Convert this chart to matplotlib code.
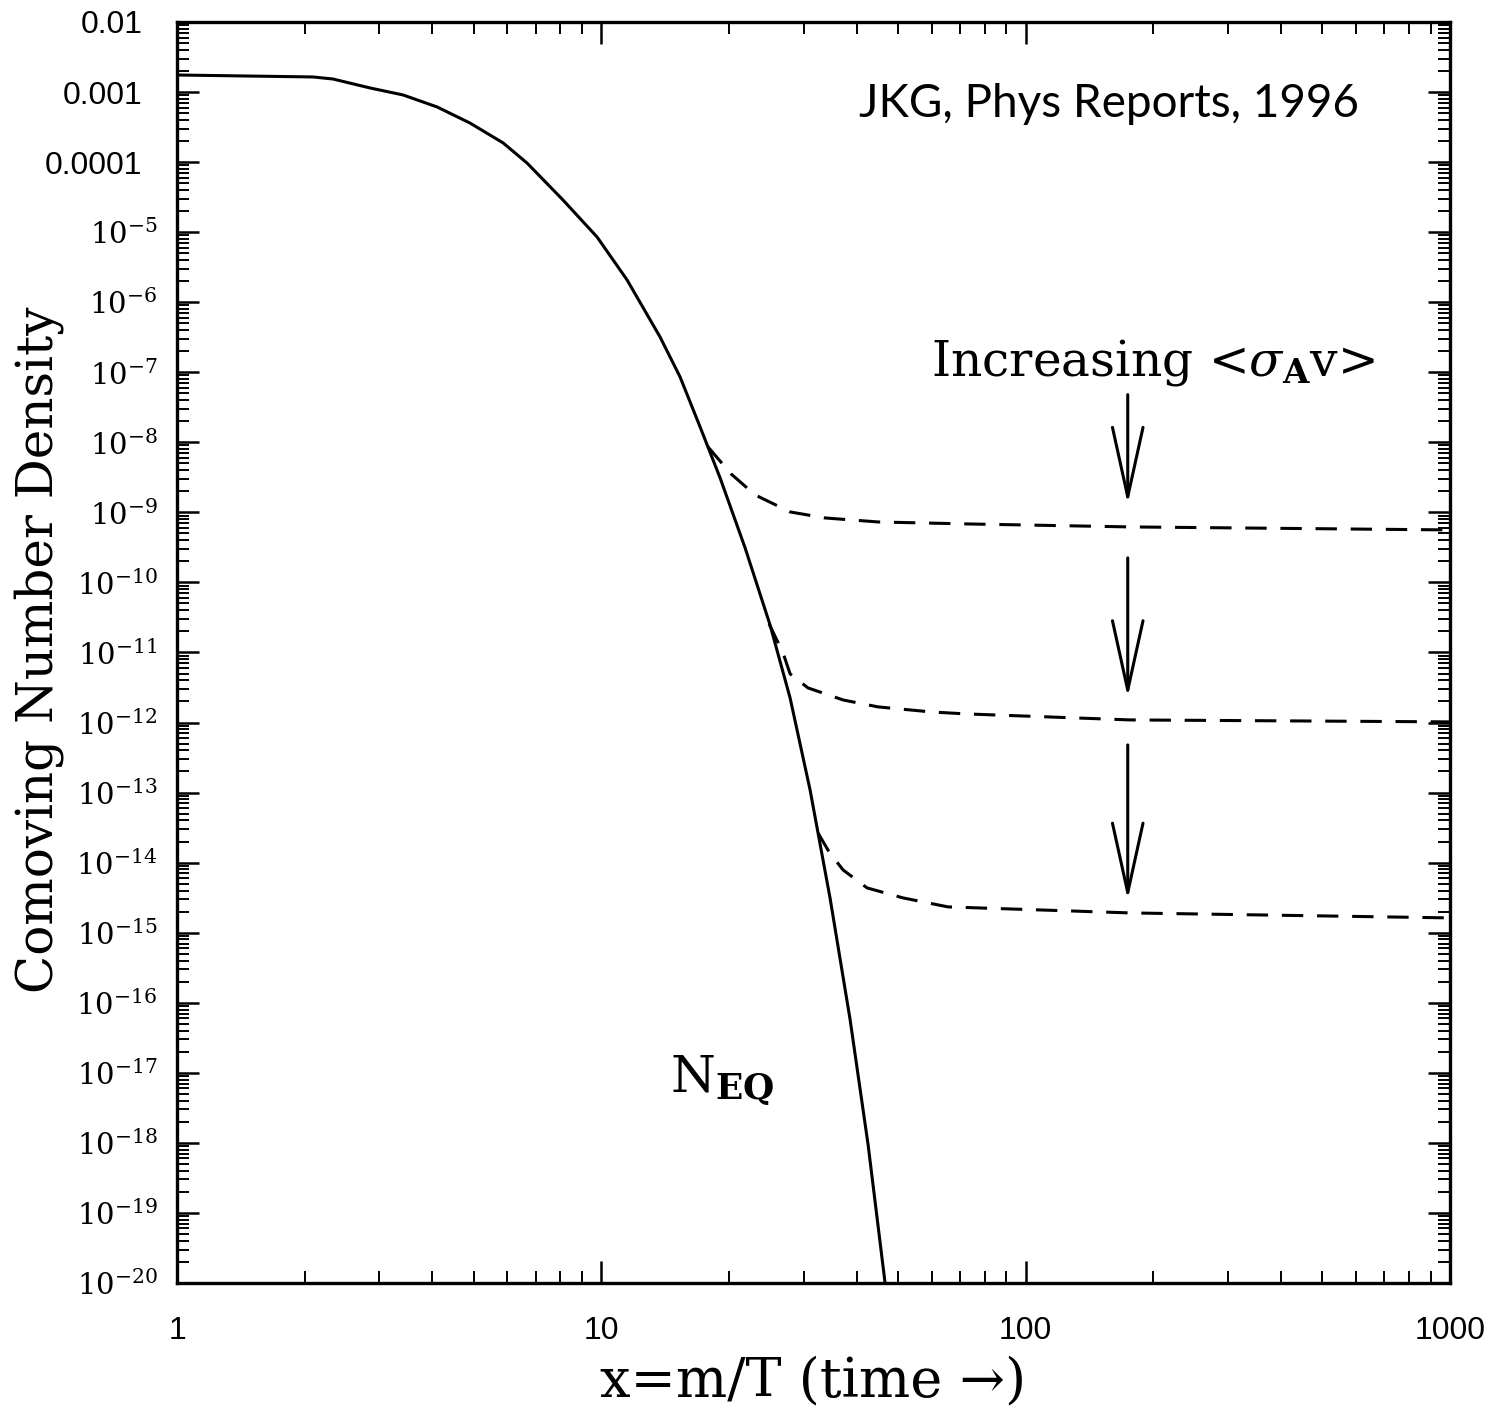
import numpy as np
import matplotlib
matplotlib.use("Agg")
import matplotlib.pyplot as plt
from matplotlib.ticker import FixedLocator, NullFormatter
from matplotlib.transforms import ScaledTranslation

# --- equilibrium abundance (solid) ---
neq_x = [1.0, 2.09, 2.33, 2.85, 3.41, 4.10, 4.90, 5.87, 6.68, 8.12, 9.77,
         11.5, 13.75, 15.33, 17.09, 19.05, 21.82, 24.98, 27.85, 31.04,
         34.59, 38.58, 42.53, 46.63]
neq_logy = [-2.757, -2.785, -2.814, -2.942, -3.042, -3.213, -3.442, -3.727,
            -4.013, -4.541, -5.069, -5.683, -6.496, -7.067, -7.781, -8.509,
            -9.508, -10.607, -11.649, -12.962, -14.504, -16.245, -18.029, -20.0]

# --- freeze-out curves (dashed), weakest to strongest annihilation ---
fo1_x = [17.84, 20.22, 23.03, 27.85, 33.67, 44.88, 72.35, 176.2, 1000]
fo1_logy = [-8.066, -8.452, -8.751, -8.994, -9.080, -9.137, -9.165, -9.208, -9.251]
fo2_x = [24.85, 26.81, 27.85, 30.69, 37.12, 44.88, 59.85, 72.35, 176.2, 1000]
fo2_logy = [-10.593, -11.007, -11.306, -11.506, -11.678, -11.777, -11.849,
            -11.877, -11.963, -11.991]
fo3_x = [32.41, 34.40, 37.12, 42.29, 51.42, 65.62, 176.2, 1000]
fo3_logy = [-13.576, -13.847, -14.104, -14.361, -14.504, -14.632, -14.718, -14.789]

# arrows: x position, tail and head exponents
arrow_x = 174.0
arrow_tail = [-7.32, -9.65, -12.32]
arrow_head = [-8.88, -11.64, -14.53]

ytick_exp = list(range(-20, -1))
ytick_labels = ['0.01', '0.001', '0.0001'] + [r'$10^{%d}$' % e for e in range(-5, -21, -1)]
ytick_labels = ytick_labels[::-1]
xtick_vals = [1, 10, 100, 1000]
xtick_labels = ['1', '10', '100', '1000']

plt.rcParams['font.family'] = ['DejaVu Serif', 'DejaVu Sans']
plt.rcParams['mathtext.fontset'] = 'dejavuserif'

fig = plt.figure(figsize=(14.95, 14.17), dpi=100)
ax = fig.add_axes([0.1184, 0.0946, 0.8515, 0.8899])

lw = 2.2
ax.plot(neq_x, 10.0 ** np.array(neq_logy), color='black', lw=lw)
for fx, fy in [(fo1_x, fo1_logy), (fo2_x, fo2_logy), (fo3_x, fo3_logy)]:
    ax.plot(fx, 10.0 ** np.array(fy), color='black', lw=lw, dashes=(7, 4.5))

for t, h in zip(arrow_tail, arrow_head):
    ax.annotate('', xy=(arrow_x, 10.0 ** h), xytext=(arrow_x, 10.0 ** t),
                arrowprops=dict(arrowstyle='->,head_length=2.5,head_width=0.55',
                                lw=2.2, color='black', shrinkA=0, shrinkB=0,
                                mutation_scale=20))

ax.set_xscale('log')
ax.set_yscale('log')
ax.set_xlim(1, 1000)
ax.set_ylim(1e-20, 1e-2)

# ticks
ax.xaxis.set_major_locator(FixedLocator(xtick_vals))
ax.set_xticklabels(xtick_labels)
xminor = [m * 10.0 ** d for d in range(0, 3) for m in range(2, 10)]
ax.xaxis.set_minor_locator(FixedLocator(xminor))
ax.xaxis.set_minor_formatter(NullFormatter())

ax.yaxis.set_major_locator(FixedLocator([10.0 ** e for e in ytick_exp]))
ax.set_yticklabels(ytick_labels)
yminor = [m * 10.0 ** d for d in range(-20, -2) for m in range(2, 10)]
ax.yaxis.set_minor_locator(FixedLocator(yminor))
ax.yaxis.set_minor_formatter(NullFormatter())

ax.tick_params(which='both', direction='in', top=True, right=True, color='black')
ax.tick_params(which='major', length=16, width=1.8)
ax.tick_params(which='minor', length=8.5, width=1.4)
ax.tick_params(axis='x', which='major', pad=24, labelsize=23)
ax.tick_params(axis='y', which='major', pad=14, labelsize=21)
for sp in ax.spines.values():
    sp.set_linewidth(2.4)

for lab in ax.get_xticklabels():
    lab.set_fontfamily('Liberation Sans')
shift = ScaledTranslation(-11 / 72, 0, fig.dpi_scale_trans)
for lab in ax.get_yticklabels()[-3:]:
    lab.set_fontfamily('Liberation Sans')
    lab.set_fontsize(23)
    lab.set_transform(lab.get_transform() + shift)

ax.set_xlabel('x=m/T (time \u2192)', fontsize=39, labelpad=7)
ax.set_ylabel('Comoving Number Density', fontsize=36)
ax.yaxis.set_label_coords(-0.089, 0.502)

ax.text(0.767, 0.720, r'Increasing <$\sigma_\mathbf{A}$v>', transform=ax.transAxes,
        ha='center', va='baseline', fontsize=35)
ax.text(0.387, 0.151, r'N$_\mathbf{EQ}$', transform=ax.transAxes,
        ha='left', va='baseline', fontsize=37)
ax.text(0.732, 0.925, 'JKG, Phys Reports, 1996', transform=ax.transAxes,
        ha='center', va='baseline', fontsize=33, fontfamily='Lato')

fig.savefig('out.png', dpi=100)
